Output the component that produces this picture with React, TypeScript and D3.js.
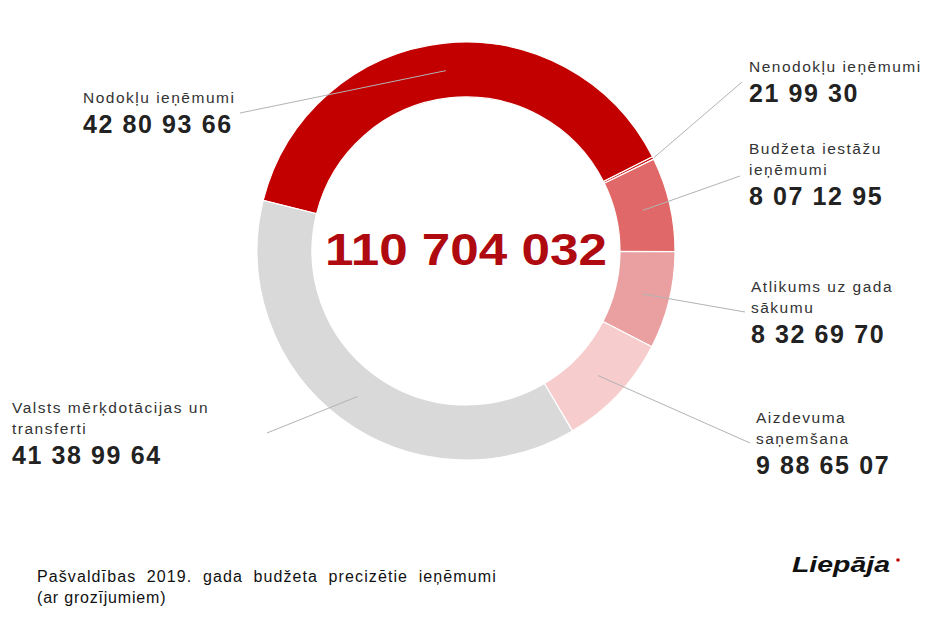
import React from "react";
import * as d3 from "d3";

const categories = [
  "Nodokļu ieņēmumi",
  "Nenodokļu ieņēmumi",
  "Budžeta iestāžu ieņēmumi",
  "Atlikums uz gada sākumu",
  "Aizdevuma saņemšana",
  "Valsts mērķdotācijas un transferti",
];
const values = [42809366, 219930, 8071295, 8326970, 9886507, 41389964];
const valueLabels = ["42 80 93 66", "21 99 30", "8 07 12 95", "8 32 69 70", "9 88 65 07", "41 38 99 64"];
const nameLines = [
  ["Nodokļu ieņēmumi"],
  ["Nenodokļu ieņēmumi"],
  ["Budžeta iestāžu", "ieņēmumi"],
  ["Atlikums uz gada", "sākumu"],
  ["Aizdevuma", "saņemšana"],
  ["Valsts mērķdotācijas un", "transferti"],
];
const colors = ["#c20000", "#c20000", "#e06868", "#eaa0a0", "#f6cccc", "#d9d9d9"];
const totalLabel = "110 704 032";
const footerLines = ["Pašvaldības 2019. gada budžeta precizētie ieņēmumi", "(ar grozījumiem)"];

// layout: label anchor (x, baseline of first line), leader end point, leader start radius mode
const labelLayout = [
  { x: 83, y: 103, lx: 240, ly: 113, outer: false },
  { x: 749, y: 72, lx: 742, ly: 82, outer: true },
  { x: 749, y: 154, lx: 740, ly: 176, outer: false },
  { x: 751, y: 292, lx: 745, ly: 312, outer: false },
  { x: 756, y: 423, lx: 750, ly: 443, outer: false },
  { x: 12, y: 413, lx: 267, ly: 433, outer: false },
];

const W = 930, H = 618;
const cx = 466, cy = 251, rOut = 209, rIn = 154;
const FONT = "'Liberation Sans', Arial, sans-serif";

export default function App() {
  const total = d3.sum(values);
  const pie = d3
    .pie<number>()
    .sort(null)
    .value((d) => d)
    .startAngle((-76 * Math.PI) / 180)
    .endAngle((-76 * Math.PI) / 180 + 2 * Math.PI);
  const arcs = pie(values);
  const arc = d3.arc<d3.PieArcDatum<number>>().innerRadius(rIn).outerRadius(rOut);

  return (
    <svg
      width={W}
      height={H}
      style={{ position: "absolute", left: 0, top: 0, background: "#fff" }}
      fontFamily={FONT}
    >
      <rect width={W} height={H} fill="#fff" />
      <g transform={`translate(${cx},${cy})`}>
        {arcs.map((a, i) => (
          <path key={i} d={arc(a) || ""} fill={colors[i]} stroke="#fff" strokeWidth={1.2} />
        ))}
      </g>
      {arcs.map((a, i) => {
        const L = labelLayout[i];
        const mid = (a.startAngle + a.endAngle) / 2;
        const r = L.outer ? rOut + 1 : (rIn + rOut) / 2;
        const sx = cx + r * Math.sin(mid);
        const sy = cy - r * Math.cos(mid);
        return <line key={i} x1={sx} y1={sy} x2={L.lx} y2={L.ly} stroke="#b3b3b3" strokeWidth={1} />;
      })}
      {categories.map((c, i) => {
        const L = labelLayout[i];
        const lines = nameLines[i];
        return (
          <g key={c}>
            {lines.map((ln, j) => (
              <text key={j} x={L.x} y={L.y + j * 21} fontSize={15.5} fill="#333" letterSpacing={1.5}>
                {ln}
              </text>
            ))}
            <text
              x={L.x}
              y={L.y + (lines.length - 1) * 21 + 30}
              fontSize={25}
              fontWeight="bold"
              fill="#222"
              letterSpacing={1.6}
            >
              {valueLabels[i]}
            </text>
          </g>
        );
      })}
      <text
        x={cx}
        y={265}
        textAnchor="middle"
        fontSize={45}
        fontWeight="bold"
        fill="#ae0a10"
        textLength={282}
        lengthAdjust="spacingAndGlyphs"
      >
        {totalLabel}
      </text>
      <text x={37} y={582} fontSize={16} fill="#111" wordSpacing={5} letterSpacing={1.1}>
        {footerLines[0]}
      </text>
      <text x={37} y={603} fontSize={16} fill="#111" letterSpacing={0.8}>
        {footerLines[1]}
      </text>
      <text
        x={792}
        y={572}
        fontSize={22}
        fontWeight="bold"
        fontStyle="italic"
        fill="#111"
        textLength={98}
        lengthAdjust="spacingAndGlyphs"
      >
        Liepāja
      </text>
      <circle cx={898} cy={560} r={1.8} fill="#c00000" />
      <desc>{`Total ${total}`}</desc>
    </svg>
  );
}
